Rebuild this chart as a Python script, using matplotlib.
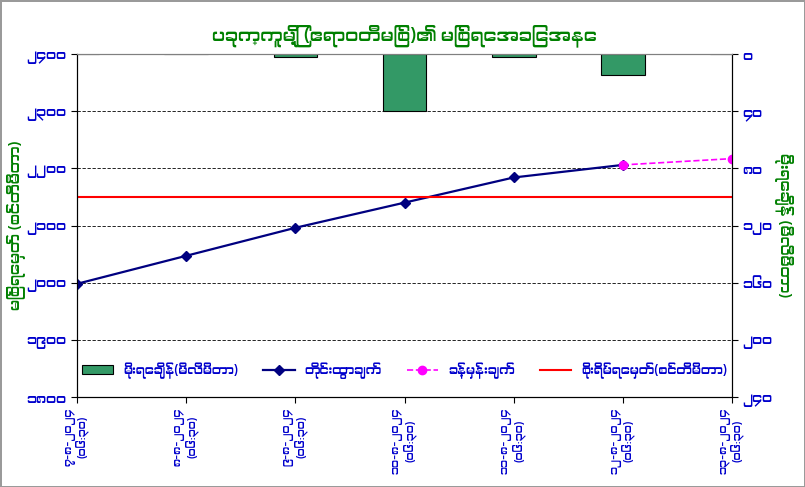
import matplotlib
matplotlib.use("Agg")
from matplotlib import pyplot as plt
from matplotlib import font_manager

# try a Myanmar font if one happens to be installed
fams = []
for f in font_manager.fontManager.ttflist:
	if "Myanmar" in f.name or "Padauk" in f.name or "Pyidaungsu" in f.name:
		fams.append(f.name)
plt.rcParams['font.family'] = fams[:1] + ['DejaVu Sans']

title = "ပခုက္ကူမြို့ (ဧရာဝတီမြစ်)၏ မြစ်ရေအခြေအနေ"
dates = ["၇-၈-၂၀၂၄\n(၀၆:၃၀)", "၈-၈-၂၀၂၄\n(၀၆:၃၀)", "၉-၈-၂၀၂၄\n(၀၆:၃၀)", "၁၀-၈-၂၀၂၄\n(၀၆:၃၀)",
	"၁၁-၈-၂၀၂၄\n(၀၆:၃၀)", "၁၂-၈-၂၀၂၄\n(၀၆:၃၀)", "၁၃-၈-၂၀၂၄\n(၀၆:၃၀)"]
rain = [0, 0, 2, 40, 2, 15, 0]
level = [1998, 2047, 2096, 2140, 2184, 2206]
forecast = [2206, 2217]
danger = 2150

left_ticks = [1800, 1900, 2000, 2100, 2200, 2300, 2400]
left_labels = ["၁၈၀၀", "၁၉၀၀", "၂၀၀၀", "၂၁၀၀", "၂၂၀၀", "၂၃၀၀", "၂၄၀၀"]
right_ticks = [0, 40, 80, 120, 160, 200, 240]
right_labels = ["၀", "၄၀", "၈၀", "၁၂၀", "၁၆၀", "၂၀၀", "၂၄၀"]

blue = "#0000CC"
green = "#008000"

fig = plt.figure(figsize=(8.05, 4.87), dpi=100)
fig.patch.set_edgecolor("#9a9a9a")
fig.patch.set_linewidth(2)
ax = fig.add_axes([0.0957, 0.1848, 0.8136, 0.7043])
ax2 = ax.twinx()
ax2.patch.set_facecolor("#CCFFFF")
ax.patch.set_visible(False)
ax.set_zorder(2)
ax2.set_zorder(1)

x = list(range(len(dates)))
b = ax2.bar(x, rain, width=0.4, color="#339966", edgecolor="black", linewidth=0.8, zorder=2)
ax2.set_ylim(240, 0)
ax2.set_yticks(right_ticks)
ax2.set_yticklabels(right_labels, color=blue, fontsize=10, fontweight="bold")
ax2.set_ylabel("မိုးရေချိန် (မီလီမီတာ)", color=green, fontsize=11, rotation=270)
ax2.yaxis.set_label_coords(1.095, 0.5)

for y in left_ticks[1:-1]:
	ax.axhline(y, color="black", linestyle="--", linewidth=0.6, dashes=(4, 2), zorder=1)

line1, = ax.plot(x[:len(level)], level, color="#000080", marker="D", markersize=5, linewidth=1.6)
line2, = ax.plot([5, 6], forecast, color="#FF00FF", marker="o", markersize=6, linewidth=1.2,
	linestyle="--")
line3 = ax.axhline(danger, color="#FF0000", linewidth=1.5)

ax.set_xlim(0, 6)
ax.set_ylim(1800, 2400)
ax.set_yticks(left_ticks)
ax.set_yticklabels(left_labels, color=blue, fontsize=10, fontweight="bold")
ax.set_xticks(x)
ax.set_xticklabels(dates, rotation=90, color=blue, fontsize=8, fontweight="bold", linespacing=1.0)
ax.set_ylabel("မြစ်ရေမှတ် (စင်တီမီတာ)", color=green, fontsize=11)
ax.yaxis.set_label_coords(-0.08, 0.5)
ax.set_title(title, color=green, fontsize=13, fontweight="bold", pad=10)

for a in (ax, ax2):
	a.spines["top"].set_color("#808080")
	a.spines["top"].set_linewidth(0.8)
ax.tick_params(direction="out", length=4)
ax2.tick_params(direction="out", length=4)

ax.legend([b, line1, line2, line3],
	["မိုးရေချိန်(မီလီမီတာ)", "တိုင်းထွာချက်", "ခန့်မှန်းချက်", "စိုးရိမ်ရေမှတ်(စင်တီမီတာ)"],
	loc="lower center", bbox_to_anchor=(0.5, 0.02), ncol=4, frameon=False,
	fontsize=9, labelcolor=blue, handlelength=2.5, columnspacing=2)

fig.savefig("out.png", dpi=100, edgecolor=fig.get_edgecolor())
